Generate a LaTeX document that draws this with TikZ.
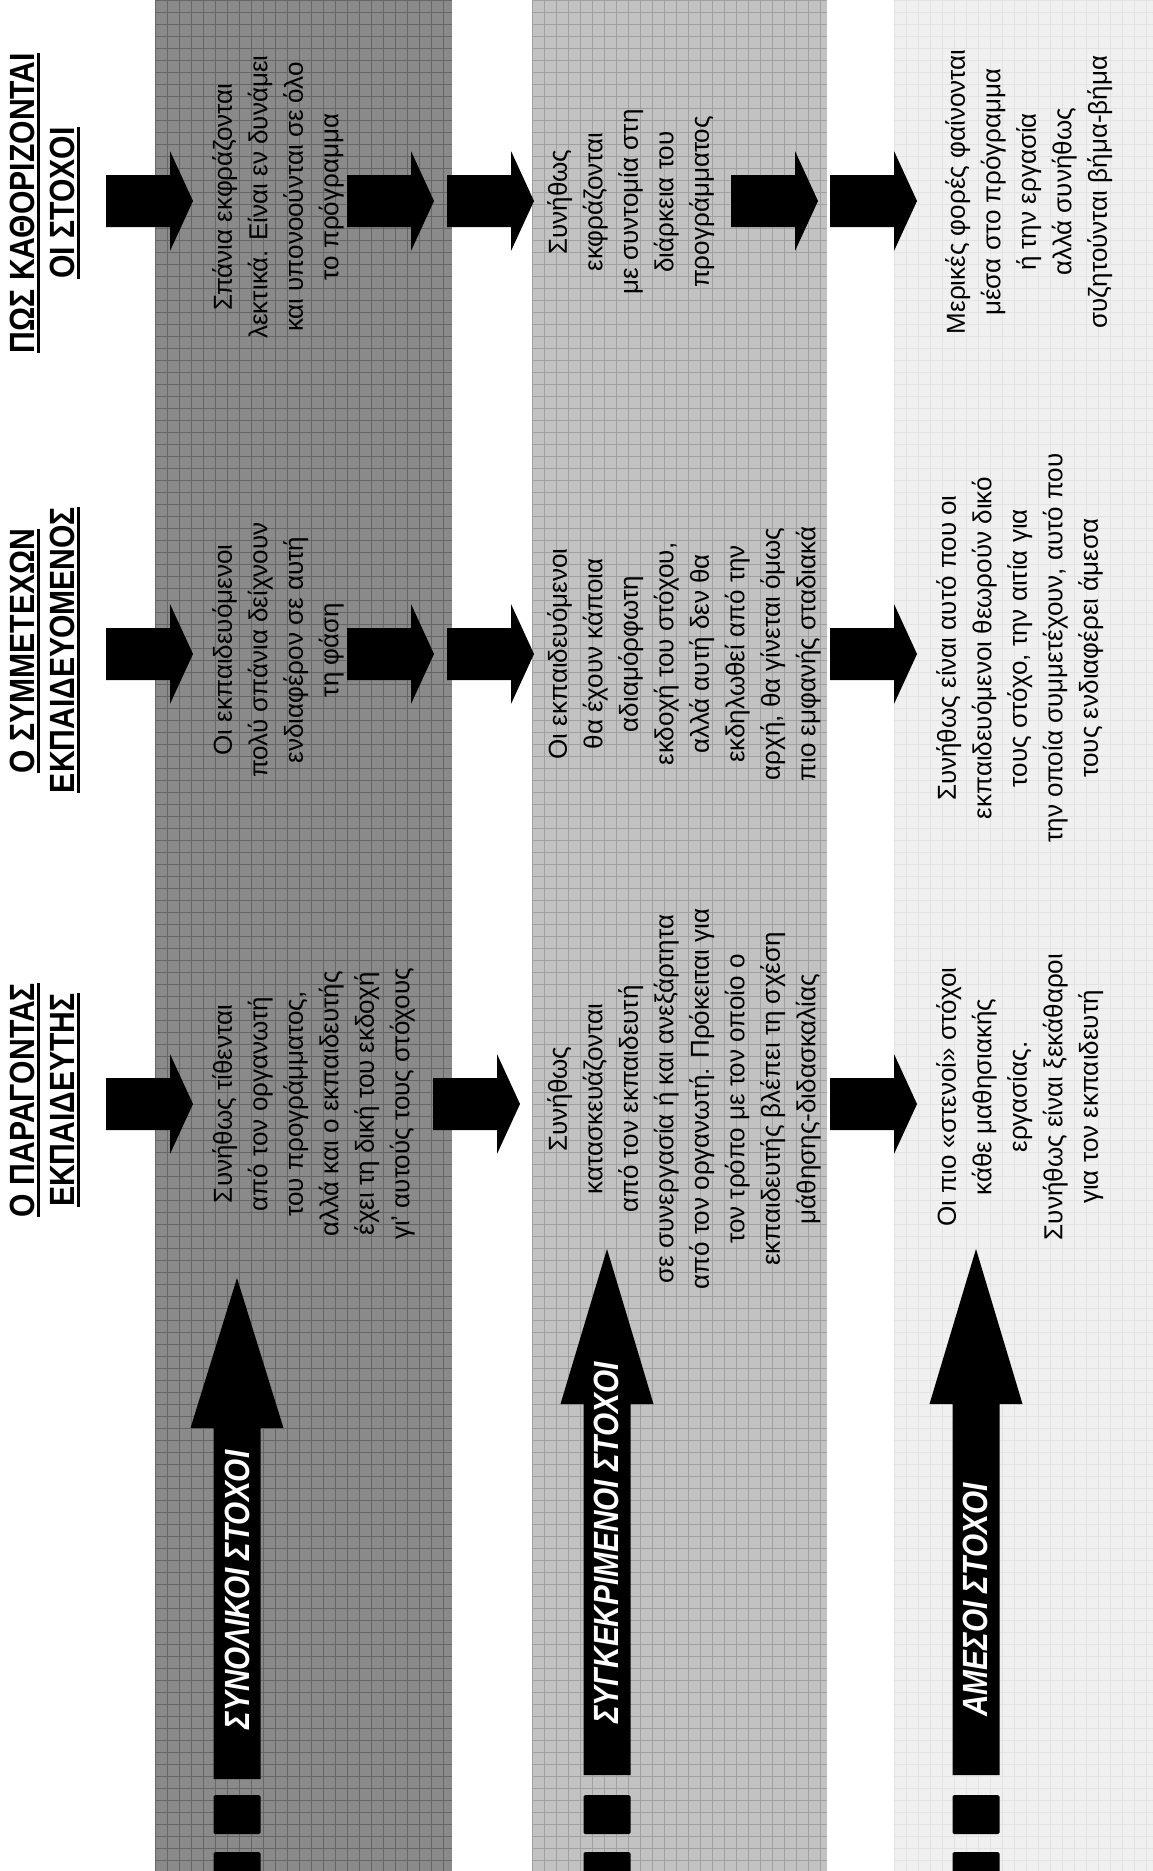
\documentclass[tikz,border=0pt]{standalone}
\usepackage{fontspec}
\setmainfont{Liberation Sans}
\newfontfamily\hdrfont{Liberation Sans}[FakeStretch=0.86]
\newfontfamily\lblfont{Liberation Sans}[FakeStretch=0.85]
\definecolor{bandDark}{HTML}{8A8A8A}
\definecolor{gridDark}{HTML}{666666}
\definecolor{bandMid}{HTML}{C2C2C2}
\definecolor{gridMid}{HTML}{A0A0A0}
\definecolor{bandLight}{HTML}{F0F0F0}
\definecolor{gridLight}{HTML}{E2E2E2}
\newcommand{\Band}[5]{%
  \fill[#3] (#1,0) rectangle (#2,1871);
  \begin{scope}
    \clip (#1,0) rectangle (#2,1871);
    \foreach \k in {0,...,#5} \draw[#4, line width=0.9pt] ({#1+12*\k},0) -- ++(0,1871);
    \foreach \k in {0,...,156} \draw[#4, line width=0.9pt] (#1,{12*\k}) -- (#2,{12*\k});
  \end{scope}}
\newcommand{\RArrow}[2]{%
  \fill[black] (#1,#2-26) -- (#1+64,#2-26) -- (#1+64,#2-50) -- (#1+87,#2)
    -- (#1+64,#2+50) -- (#1+64,#2+26) -- (#1,#2+26) -- cycle;}
\newcommand{\UArrow}[4]{%
  \fill[black] (#1,#2) -- (#1+46.5,#3) -- (#1+23.5,#3) -- (#1+23.5,#4)
    -- (#1-23.5,#4) -- (#1-23.5,#3) -- (#1-46.5,#3) -- cycle;
  \fill[black, rounded corners=1.5pt] (#1-23.5,1795) rectangle (#1+23.5,1834);
  \fill[black, rounded corners=1.5pt] (#1-23.5,1852) rectangle (#1+23.5,1885);}
\begin{document}
\begin{tikzpicture}[x=1pt,y=-1pt,
  body/.style={rotate=90, anchor=north, align=center, inner sep=0pt,
    font=\fontsize{26}{35.5}\selectfont},
  hdr/.style={rotate=90, anchor=base, inner sep=0pt,
    font=\hdrfont\bfseries\fontsize{35}{40}\selectfont},
  lbl/.style={rotate=90, anchor=center, inner sep=0pt, text=white,
    font=\lblfont\bfseries\itshape\fontsize{35}{40}\selectfont},
  uline/.style={line width=2.4pt, black}
]
\useasboundingbox (0,0) rectangle (1153,1871);
\fill[white] (0,0) rectangle (1153,1871);

% bands
\Band{155}{452}{bandDark}{gridDark}{25}
\Band{532}{827}{bandMid}{gridMid}{25}
\Band{894}{1153}{bandLight}{gridLight}{22}

% headers
\node[hdr] (h1a) at (34,1100) {Ο ΠΑΡΑΓΟΝΤΑΣ};
\node[hdr] (h1b) at (74,1100) {ΕΚΠΑΙΔΕΥΤΗΣ};
\node[hdr] (h2a) at (34,651) {Ο ΣΥΜΜΕΤΕΧΩΝ};
\node[hdr] (h2b) at (74,650) {ΕΚΠΑΙΔΕΥΟΜΕΝΟΣ};
\node[hdr] (h3a) at (34,203) {ΠΩΣ ΚΑΘΟΡΙΖΟΝΤΑΙ};
\node[hdr] (h3b) at (74,203) {ΟΙ ΣΤΟΧΟΙ};
\foreach \n in {h1a,h1b,h2a,h2b,h3a,h3b}
  \draw[uline] ([xshift=4.5pt]\n.base west) -- ([xshift=4.5pt]\n.base east);

% right-pointing block arrows
\foreach \yy in {201,654,1104} {\RArrow{106}{\yy}\RArrow{830}{\yy}}
\foreach \yy in {201,654} {\RArrow{347}{\yy}\RArrow{447}{\yy}}
\RArrow{731}{201}
\RArrow{433}{1104}

% upward arrows
\UArrow{237}{1278}{1428}{1779}
\UArrow{607}{1249}{1404}{1775}
\UArrow{976}{1249}{1404}{1775}
\node[lbl] (l1) at (237,1590) {ΣΥΝΟΛΙΚΟΙ ΣΤΟΧΟΙ};
\node[lbl] (l2) at (606,1543) {ΣΥΓΚΕΚΡΙΜΕΝΟΙ ΣΤΟΧΟΙ};
\node[lbl] (l3) at (975,1600) {ΑΜΕΣΟΙ ΣΤΟΧΟΙ};

% dark band texts
\node[body] (d3) at (212,197) {Σπάνια εκφράζονται\\λεκτικά. Είναι εν δυνάμει\\και υπονοούνται σε όλο\\το πρόγραμμα};
\node[body] (d2) at (212,650) {Οι εκπαιδευόμενοι\\πολύ σπάνια δείχνουν\\ενδιαφέρον σε αυτή\\τη φάση};
\node[body] (d1) at (212,1104) {Συνήθως τίθενται\\από τον οργανωτή\\του προγράμματος,\\αλλά και ο εκπαιδευτής\\έχει τη δική του εκδοχή\\γι' αυτούς τους στόχους};

% medium band texts
\node[body] (m3) at (547,202) {Συνήθως\\εκφράζονται\\με συντομία στη\\διάρκεια του\\προγράμματος};
\node[body] (m2) at (547,654) {Οι εκπαιδευόμενοι\\θα έχουν κάποια\\αδιαμόρφωτη\\εκδοχή του στόχου,\\αλλά αυτή δεν θα\\εκδηλωθεί από την\\αρχή, θα γίνεται όμως\\πιο εμφανής σταδιακά};
\node[body] (m1) at (547,1099) {Συνήθως\\κατασκευάζονται\\από τον εκπαιδευτή\\σε συνεργασία ή και ανεξάρτητα\\από τον οργανωτή. Πρόκειται για\\τον τρόπο με τον οποίο ο\\εκπαιδευτής βλέπει τη σχέση\\μάθησης-διδασκαλίας};

% light band texts
\node[body] (c3) at (945,192) {Μερικές φορές φαίνονται\\μέσα στο πρόγραμμα\\ή την εργασία\\αλλά συνήθως\\συζητούνται βήμα-βήμα};
\node[body] (c2) at (936,648) {Συνήθως είναι αυτό που οι\\εκπαιδευόμενοι θεωρούν δικό\\τους στόχο, την αιτία για\\την οποία συμμετέχουν, αυτό που\\τους ενδιαφέρει άμεσα};
\node[body] (c1) at (936,1097) {Οι πιο «στενοί» στόχοι\\κάθε μαθησιακής\\εργασίας.\\Συνήθως είναι ξεκάθαροι\\για τον εκπαιδευτή};
\end{tikzpicture}
\end{document}
